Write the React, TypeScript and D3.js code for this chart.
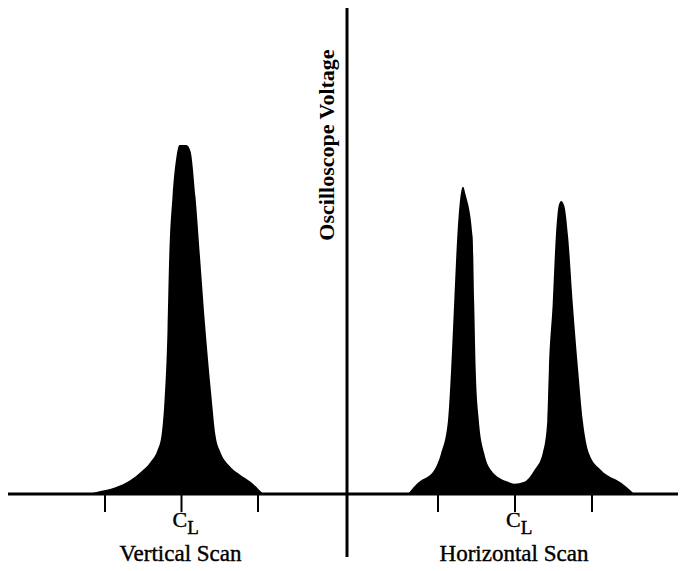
import React from "react";
import * as d3 from "d3";

// Vertical scan profile: position (tick units from centreline) and voltage (0-100)
const verticalPos = [-1.216, -1.059, -0.863, -0.667, -0.536, -0.405, -0.314, -0.261, -0.222, -0.183, -0.163, -0.118, -0.065, -0.026, 0.065, 0.118, 0.183, 0.248, 0.314, 0.392, 0.444, 0.51, 0.614, 0.771, 0.902, 1.007, 1.072];
const verticalVolt = [0, 0.6, 1.4, 2.9, 4.5, 6.6, 9.0, 12.1, 19.3, 33.7, 47.5, 61.1, 69.5, 71.8, 71.8, 70.5, 61.1, 47.5, 33.7, 20, 12.1, 8.6, 6.0, 3.9, 2.5, 1.0, 0];

// Horizontal scan profile
const horizontalPos = [-1.39, -1.26, -1.05, -0.96, -0.87, -0.83, -0.79, -0.75, -0.7, -0.675, -0.64, -0.55, -0.53, -0.51, -0.47, -0.4, -0.31, -0.09, -0.01, 0.12, 0.25, 0.36, 0.42, 0.44, 0.49, 0.53, 0.57, 0.6, 0.64, 0.69, 0.75, 0.82, 0.88, 0.96, 1.12, 1.38, 1.55];
const horizontalVolt = [0, 2.3, 4.9, 8.4, 15.2, 25.5, 39.3, 52.9, 62.1, 63.2, 61.5, 52.9, 39.3, 25.5, 15.2, 8.4, 4.9, 2.5, 2.1, 2.5, 4.9, 8.4, 15.2, 25.5, 39.3, 52.9, 59.5, 60.3, 59.3, 52.9, 39.3, 25.5, 15.2, 8.4, 4.9, 2.3, 0];

const tickValues = [-1, 0, 1];
const panelTitles = ["Vertical Scan", "Horizontal Scan"];
const yTitle = "Oscilloscope Voltage";

const W = 681;
const H = 571;
const baseY = 494;
const topY = 8;
const axisX = 347;
const font = "'Liberation Serif', 'Times New Roman', serif";

export default function App() {
  const y = d3.scaleLinear().domain([0, 100]).range([baseY, topY]);
  const xL = d3.scaleLinear().domain([-1, 1]).range([105, 258]);
  const xR = d3.scaleLinear().domain([-1, 1]).range([438, 592]);

  const panels = [
    { x: xL, pos: verticalPos, volt: verticalVolt, title: panelTitles[0] },
    { x: xR, pos: horizontalPos, volt: horizontalVolt, title: panelTitles[1] },
  ];

  return (
    <svg width={W} height={H} style={{ position: "absolute", left: 0, top: 0, background: "#fff" }}>
      {panels.map((p, i) => {
        const pts = p.pos.map((u, k) => [u, p.volt[k]] as [number, number]);
        const area = d3
          .area<[number, number]>()
          .x((d) => p.x(d[0]))
          .y0(y(0))
          .y1((d) => y(d[1]))
          .curve(d3.curveMonotoneX);
        return (
          <g key={i}>
            <path d={area(pts) || ""} fill="#000" />
            {tickValues.map((t) => (
              <line key={t} x1={p.x(t)} x2={p.x(t)} y1={baseY} y2={baseY + 18} stroke="#000" strokeWidth={2} />
            ))}
            <text x={p.x(0) - 9} y={527} fontFamily={font} fontSize={22} stroke="#000" strokeWidth={0.4}>
              C
              <tspan dx={0} dy={7} fontSize={19}>L</tspan>
            </text>
            <text x={p.x(0) - 1} y={561} fontFamily={font} fontSize={23} textAnchor="middle" stroke="#000" strokeWidth={0.4}>
              {p.title}
            </text>
          </g>
        );
      })}
      <line x1={8} x2={678} y1={baseY} y2={baseY} stroke="#000" strokeWidth={3} />
      <line x1={axisX} x2={axisX} y1={topY} y2={557} stroke="#000" strokeWidth={3} />
      <text
        transform={`translate(334, 145) rotate(-90)`}
        fontFamily={font}
        fontSize={22}
        fontWeight="bold"
        textAnchor="middle"
      >
        {yTitle}
      </text>
    </svg>
  );
}
